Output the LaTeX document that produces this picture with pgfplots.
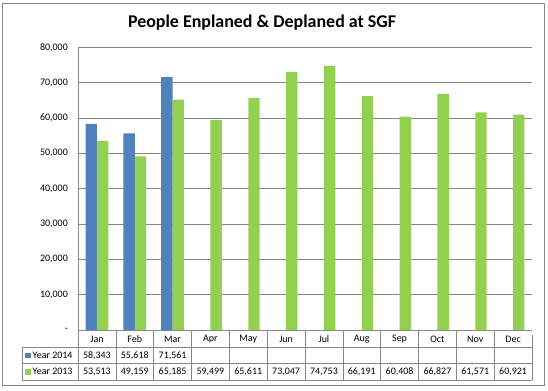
\documentclass[border=0pt]{standalone}
\usepackage{fontspec}
\setmainfont{Carlito}
\usepackage{pgfplots}
\pgfplotsset{compat=1.18}
\definecolor{b14}{HTML}{4F81BD}
\definecolor{g13}{HTML}{92D050}
\definecolor{gr}{HTML}{868686}
\begin{document}
\begin{tikzpicture}[x=1bp,y=1bp]
\path (0,0) rectangle (548,390);
\draw[gr] (2.5,4.5) rectangle (544.5,387);
\node[font=\fontsize{18}{20}\selectfont\bfseries] at (262,367) {People Enplaned \& Deplaned at SGF};
\begin{axis}[at={(78bp,60bp)}, anchor=south west, scale only axis,
  width=454bp, height=282.7bp,
  ybar=0pt, bar width=0.3,
  xmin=-0.5, xmax=11.5, ymin=0, ymax=80000,
  xtick={0,...,11},
  xticklabels={Jan,Feb,Mar,Apr,May,Jun,Jul,Aug,Sep,Oct,Nov,Dec},
  ytick={0,10000,...,80000},
  scaled y ticks=false,
  yticklabels={{-\hspace{8bp}},{10,000},{20,000},{30,000},{40,000},{50,000},{60,000},{70,000},{80,000}},
  major tick length=0pt,
  axis x line*=bottom, axis y line*=left,
  axis line style={gr, -},
  ymajorgrids, grid style={gr},
  tick label style={font=\fontsize{10}{12}\selectfont, inner sep=0pt},
  yticklabel style={anchor=east, xshift=-10bp},
  xticklabel style={anchor=center, yshift=-9bp},
  clip=false,
]
\addplot[fill=b14, draw=none] coordinates {(0,58343) (1,55618) (2,71561)};
\addplot[fill=g13, draw=none] coordinates {(0,53513) (1,49159) (2,65185) (3,59499) (4,65611) (5,73047) (6,74753) (7,66191) (8,60408) (9,66827) (10,61571) (11,60921)};
\end{axis}
\foreach \k in {0,...,11} \draw[gr] (78+\k*37.8333,60) -- (78+\k*37.8333,10);
\draw[gr] (532,55) -- (532,10);
\draw[gr] (22,42.7) -- (532,42.7);
\draw[gr] (22,26.7) -- (532,26.7);
\draw[gr] (22,10) -- (532,10);
\draw[gr] (22,42.7) -- (22,10);
\fill[b14] (25,32) rectangle (30.5,37.5);
\fill[g13] (25,15.5) rectangle (30.5,21);
\begin{scope}[every node/.style={font=\fontsize{10}{12}\selectfont, inner sep=0pt}]
\node[anchor=west] at (32.5,34.7) {Year 2014};
\node[anchor=west] at (32.5,18.3) {Year 2013};
\foreach \v [count=\i from 0] in {{58,343},{55,618},{71,561}}
  \node at (78+18.9167+\i*37.8333,34.7) {\v};
\foreach \v [count=\i from 0] in {{53,513},{49,159},{65,185},{59,499},{65,611},{73,047},{74,753},{66,191},{60,408},{66,827},{61,571},{60,921}}
  \node at (78+18.9167+\i*37.8333,18.3) {\v};
\end{scope}
\end{tikzpicture}
\end{document}
